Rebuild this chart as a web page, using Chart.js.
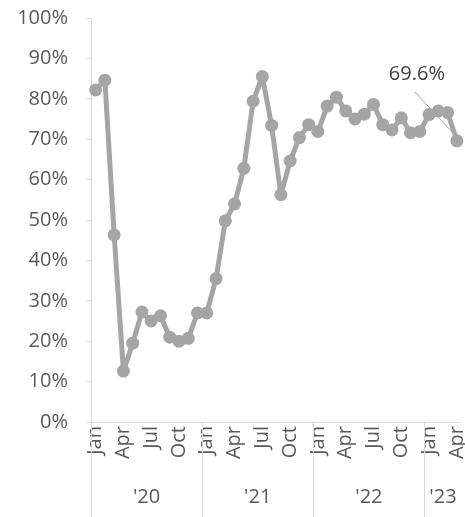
<!DOCTYPE html>
<html>
<head>
<meta charset="utf-8">
<script src="https://cdn.jsdelivr.net/npm/chart.js@4/dist/chart.umd.min.js"></script>
<style>
  html, body { margin: 0; padding: 0; background: #fff; overflow: hidden; }
  #wrap { width: 465px; height: 517px; overflow: hidden; }
</style>
</head>
<body>
<div id="wrap"><canvas id="shareChart" width="468" height="517"></canvas></div>
<script>
const months = [
    "Jan", "Feb", "Mar", "Apr", "May", "Jun", "Jul", "Aug", "Sep", "Oct", "Nov", "Dec",
    "Jan", "Feb", "Mar", "Apr", "May", "Jun", "Jul", "Aug", "Sep", "Oct", "Nov", "Dec",
    "Jan", "Feb", "Mar", "Apr", "May", "Jun", "Jul", "Aug", "Sep", "Oct", "Nov", "Dec",
    "Jan", "Feb", "Mar", "Apr"
];
const shownMonths = ["Jan", "Apr", "Jul", "Oct"];
const years = ["'20", "'21", "'22", "'23"];
const monthsInYear = [12, 12, 12, 4];

const share = [
    82.2, 84.6, 46.3, 12.6, 19.5, 27.2, 25.0, 26.3, 21.0, 20.0, 20.7, 27.0,
    27.0, 35.5, 49.8, 54.0, 62.8, 79.4, 85.5, 73.4, 56.3, 64.6, 70.4, 73.6,
    71.9, 78.2, 80.4, 77.0, 75.0, 76.2, 78.6, 73.6, 72.3, 75.3, 71.6, 71.9,
    76.1, 77.0, 76.6, 69.6
];

const yTicks = [0, 10, 20, 30, 40, 50, 60, 70, 80, 90, 100];

const FONT = "'Open Sans', 'Noto Sans', sans-serif";
const TEXT = "#595959";
const AXIS = "#d9d9d9";
const LINE = "#a5a5a5";

// year group labels and separators under the month ticks
const yearGroups = {
    id: "yearGroups",
    afterDraw(chart) {
        const ctx = chart.ctx;
        const x = chart.scales.x;
        const bottom = chart.height;
        ctx.save();
        ctx.strokeStyle = AXIS;
        ctx.lineWidth = 1;
        ctx.fillStyle = TEXT;
        ctx.font = "20px " + FONT;
        ctx.textAlign = "center";
        ctx.textBaseline = "middle";
        let start = 0;
        years.forEach((yr, g) => {
            const end = start + monthsInYear[g] - 1;
            const left = start === 0 ? chart.chartArea.left
                : (x.getPixelForValue(start - 1) + x.getPixelForValue(start)) / 2;
            const right = end === months.length - 1 ? chart.chartArea.right
                : (x.getPixelForValue(end) + x.getPixelForValue(end + 1)) / 2;
            const lx = Math.round(left) + 0.5;
            ctx.beginPath();
            ctx.moveTo(lx, x.top);
            ctx.lineTo(lx, bottom);
            ctx.stroke();
            ctx.fillText(yr, (left + right) / 2, bottom - 20);
            start = end + 1;
        });
        ctx.restore();
    }
};

// callout for the last value
const lastLabel = {
    id: "lastLabel",
    afterDatasetsDraw(chart) {
        const meta = chart.getDatasetMeta(0);
        const pt = meta.data[meta.data.length - 1];
        const ctx = chart.ctx;
        ctx.save();
        ctx.strokeStyle = "#a6a6a6";
        ctx.lineWidth = 1;
        ctx.beginPath();
        ctx.moveTo(pt.x - 42, pt.y - 49);
        ctx.lineTo(pt.x - 5, pt.y - 9);
        ctx.stroke();
        ctx.fillStyle = "#404040";
        ctx.font = "20px " + FONT;
        ctx.textAlign = "center";
        ctx.textBaseline = "middle";
        ctx.fillText(share[share.length - 1].toFixed(1) + "%", pt.x - 40, pt.y - 67);
        ctx.restore();
    }
};

new Chart(document.getElementById("shareChart"), {
    type: "line",
    data: {
        labels: months,
        datasets: [{
            data: share,
            borderColor: LINE,
            backgroundColor: LINE,
            borderWidth: 5,
            borderJoinStyle: "round",
            pointRadius: 6.5,
            pointBorderWidth: 0,
            pointBackgroundColor: LINE,
            tension: 0
        }]
    },
    options: {
        responsive: false,
        animation: false,
        events: [],
        layout: { padding: { top: 18, right: 0, left: 0, bottom: 0 } },
        plugins: {
            legend: { display: false },
            tooltip: { enabled: false }
        },
        scales: {
            x: {
                offset: true,
                grid: { drawOnChartArea: false, drawTicks: false },
                border: { color: AXIS },
                ticks: {
                    autoSkip: false,
                    minRotation: 90,
                    maxRotation: 90,
                    padding: 4,
                    color: TEXT,
                    font: { family: FONT, size: 20 },
                    callback: (v, i) => shownMonths.includes(months[i]) ? months[i] : ""
                },
                afterFit: s => { s.height = 95; s.paddingLeft = 0; s.paddingRight = 0; }
            },
            y: {
                min: 0,
                max: 100,
                afterBuildTicks: s => { s.ticks = yTicks.map(v => ({ value: v })); },
                grid: { drawOnChartArea: false, tickLength: 5, color: AXIS },
                border: { color: AXIS },
                ticks: {
                    padding: 18,
                    color: TEXT,
                    font: { family: FONT, size: 20 },
                    callback: v => v + "%"
                },
                afterFit: s => { s.width = 91; s.paddingTop = 0; s.paddingBottom = 0; }
            }
        }
    },
    plugins: [yearGroups, lastLabel]
});
</script>
</body>
</html>
